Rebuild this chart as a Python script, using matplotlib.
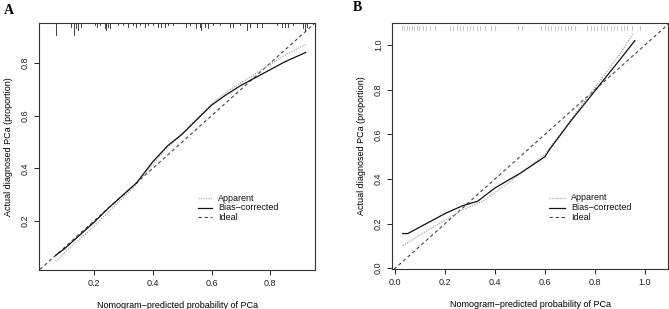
import matplotlib
matplotlib.use("Agg")
import matplotlib.pyplot as plt
import numpy as np

plt.rcParams['font.family'] = ['Liberation Sans', 'DejaVu Sans']

# ---------------- Panel A data ----------------
a_app_x = [0.07, 0.10, 0.15, 0.20, 0.25, 0.30, 0.345, 0.40, 0.45, 0.50, 0.55, 0.60, 0.65, 0.70, 0.75, 0.80, 0.85, 0.92]
a_app_y = [0.045, 0.08, 0.13, 0.18, 0.235, 0.29, 0.34, 0.415, 0.48, 0.53, 0.59, 0.645, 0.69, 0.725, 0.76, 0.795, 0.83, 0.87]
a_bc_x = [0.07, 0.10, 0.15, 0.20, 0.25, 0.30, 0.345, 0.40, 0.45, 0.50, 0.55, 0.60, 0.65, 0.70, 0.75, 0.80, 0.85, 0.92]
a_bc_y = [0.07, 0.095, 0.145, 0.195, 0.25, 0.30, 0.345, 0.425, 0.485, 0.53, 0.585, 0.64, 0.68, 0.715, 0.745, 0.775, 0.805, 0.84]
# rug spikes (predicted probability, relative frequency)
a_rug_x = [0.070, 0.123, 0.131, 0.138, 0.146, 0.157, 0.202, 0.210, 0.219, 0.236, 0.242, 0.248, 0.253,
           0.281, 0.298, 0.315, 0.333, 0.344, 0.355, 0.372, 0.384, 0.400, 0.417, 0.429, 0.440, 0.452, 0.469,
           0.514, 0.526, 0.548, 0.560, 0.565, 0.577, 0.588, 0.605, 0.628, 0.662, 0.673, 0.696, 0.719,
           0.730, 0.753, 0.770, 0.821, 0.838, 0.849, 0.860, 0.877, 0.911, 0.917, 0.923]
a_rug_n = [7, 2, 7, 3, 4, 2, 1, 2, 1, 3, 4, 2, 3,
           1, 1, 2, 1, 2, 1, 2, 1, 1, 2, 2, 2, 1, 1,
           2, 1, 3, 2, 4, 2, 3, 1, 1, 2, 2, 1, 4,
           2, 2, 2, 1, 2, 2, 2, 1, 3, 4, 2]

# ---------------- Panel B data ----------------
b_app_x = [0.03, 0.10, 0.20, 0.27, 0.35, 0.45, 0.55, 0.60, 0.70, 0.80, 0.90, 0.955]
b_app_y = [0.10, 0.15, 0.215, 0.262, 0.30, 0.38, 0.465, 0.51, 0.66, 0.81, 0.96, 1.055]
b_bc_x = [0.03, 0.05, 0.10, 0.20, 0.27, 0.33, 0.40, 0.50, 0.56, 0.60, 0.62, 0.70, 0.80, 0.90, 0.96]
b_bc_y = [0.155, 0.155, 0.185, 0.245, 0.28, 0.30, 0.36, 0.425, 0.47, 0.50, 0.535, 0.655, 0.795, 0.935, 1.02]
b_rug_x = [0.026, 0.036, 0.046, 0.056, 0.066, 0.076, 0.086, 0.096, 0.110, 0.125, 0.140, 0.159,
           0.219, 0.232, 0.246, 0.259, 0.272, 0.286, 0.299, 0.312, 0.326, 0.340, 0.360, 0.385, 0.399,
           0.490, 0.506,
           0.585, 0.598, 0.612, 0.625, 0.638, 0.652, 0.665, 0.679, 0.692, 0.706, 0.719,
           0.770, 0.783, 0.797, 0.810, 0.823, 0.837, 0.850, 0.863, 0.877, 0.890, 0.903, 0.917, 0.930, 0.950, 0.979]

xlabel = "Nomogram\u2212predicted probability of PCa"
ylabel = "Actual diagnosed PCa (proportion)"
legend_labels = ["Apparent", "Bias\u2212corrected", "Ideal"]

fig = plt.figure(figsize=(6.69, 3.09), dpi=100)
axA = fig.add_axes([0.0583, 0.1262, 0.4126, 0.7994])
axB = fig.add_axes([0.586, 0.1294, 0.4126, 0.796])

def style(ax):
    for s in ax.spines.values():
        s.set_linewidth(0.8)
        s.set_color('#333333')
    ax.tick_params(direction='out', length=3.5, width=0.7, labelsize=6.5, colors='#222222', pad=3)
    for lab in ax.get_yticklabels():
        lab.set_rotation(90)
        lab.set_va('center')
    ax.set_xlabel(xlabel, fontsize=6.5, labelpad=9)
    ax.set_ylabel(ylabel, fontsize=6.5, labelpad=6)

def draw(ax, app_x, app_y, bc_x, bc_y, lo, hi):
    ax.plot([lo - 1, hi + 1], [lo - 1, hi + 1], linestyle=(0, (3, 2.5)), color='#444444', linewidth=0.8)
    ax.plot(app_x, app_y, linestyle=(0, (1, 1)), color='#aaaaaa', linewidth=0.9)
    ax.plot(bc_x, bc_y, color='#111111', linewidth=0.9)

def legend(ax, lx0, lx1, tx, ys):
    styles = [dict(linestyle=(0, (1, 1)), color='#aaaaaa', linewidth=0.9),
              dict(color='#111111', linewidth=0.9),
              dict(linestyle=(0, (3, 2.5)), color='#444444', linewidth=0.8)]
    for st, lab, y in zip(styles, legend_labels, ys):
        ax.plot([lx0, lx1], [y, y], transform=ax.transAxes, clip_on=False, **st)
        ax.text(tx, y, lab, transform=ax.transAxes, fontsize=6.5, va='center', ha='left', color='#111111')

# Panel A
draw(axA, a_app_x, a_app_y, a_bc_x, a_bc_y, 0, 1)
axA.set_xlim(0.013, 0.952)
axA.set_ylim(0.014, 0.952)
axA.set_xticks([0.2, 0.4, 0.6, 0.8])
axA.set_yticks([0.2, 0.4, 0.6, 0.8])
for x, n in zip(a_rug_x, a_rug_n):
    axA.plot([x, x], [1.0, 1.0 - 0.0072 * n], transform=axA.get_xaxis_transform(), color='#222222', linewidth=0.6)
style(axA)
legend(axA, 0.575, 0.625, 0.65, [0.291, 0.252, 0.214])

# Panel B
draw(axB, b_app_x, b_app_y, b_bc_x, b_bc_y, 0, 1.2)
axB.set_xlim(-0.013, 1.093)
axB.set_ylim(-0.004, 1.099)
axB.set_xticks([0.0, 0.2, 0.4, 0.6, 0.8, 1.0])
axB.set_yticks([0.0, 0.2, 0.4, 0.6, 0.8, 1.0])
for x in b_rug_x:
    axB.plot([x, x], [0.99, 0.97], transform=axB.get_xaxis_transform(), color='#bbbbbb', linewidth=0.6)
style(axB)
legend(axB, 0.57, 0.625, 0.65, [0.289, 0.25, 0.211])

fig.text(0.006, 0.965, "A", fontsize=10, fontweight='bold', family='Liberation Serif', va='center')
fig.text(0.528, 0.975, "B", fontsize=10, fontweight='bold', family='Liberation Serif', va='center')

fig.savefig("out.png", dpi=100)
